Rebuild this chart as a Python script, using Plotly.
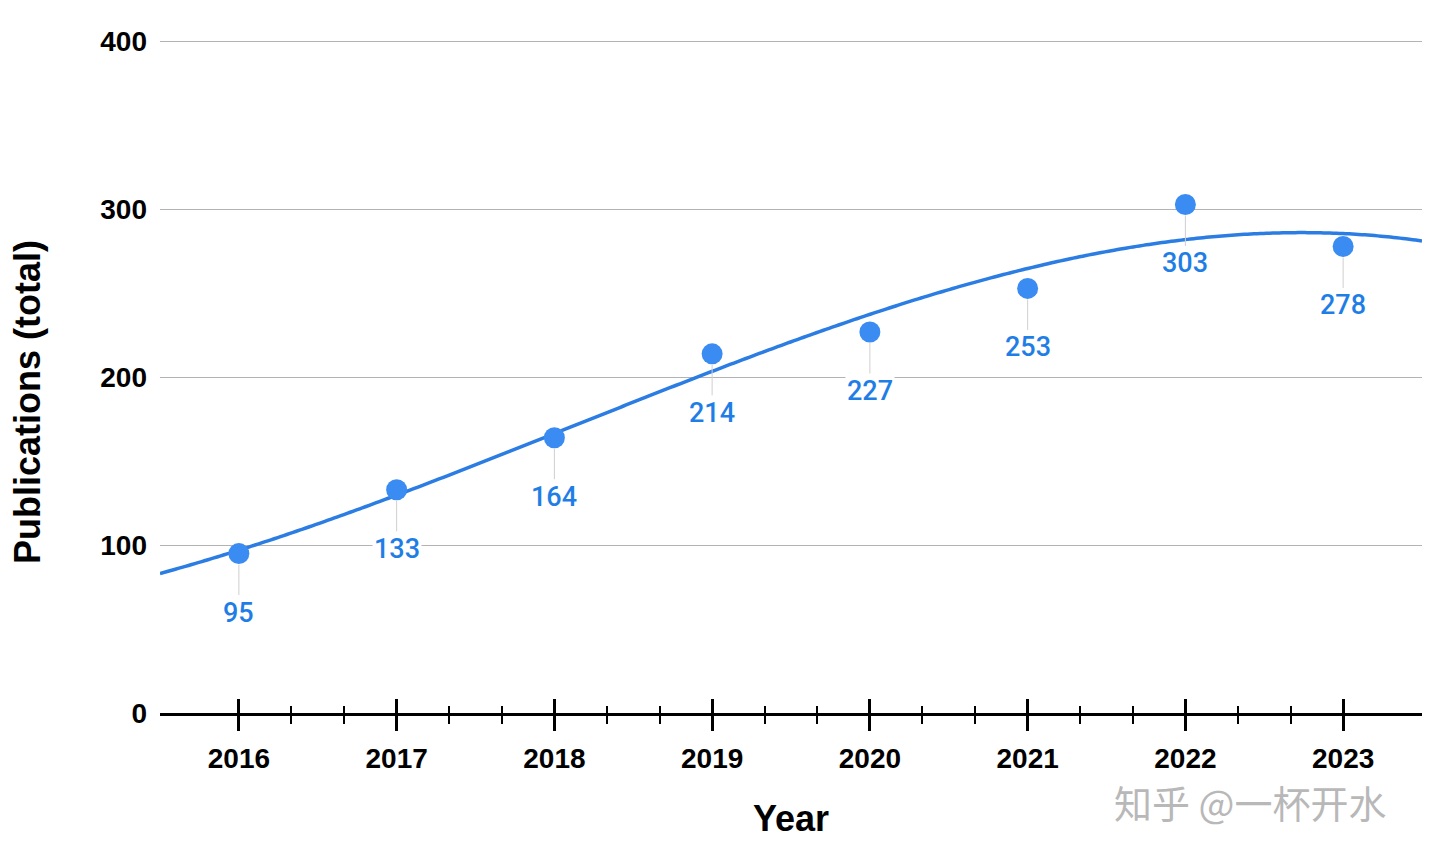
import numpy as np
import plotly.graph_objects as go

years = [2016, 2017, 2018, 2019, 2020, 2021, 2022, 2023]
publications = [95, 133, 164, 214, 227, 253, 303, 278]
y_ticks = [0, 100, 200, 300, 400]
x_title = "Year"
y_title = "Publications (total)"
watermark = "知乎 @一杯开水"

# cubic polynomial trendline fitted to the data
coef = np.polyfit(years, publications, 3)
tx = np.linspace(2015.5, 2023.5, 200)
ty = np.polyval(coef, tx)

# minor ticks: two between each pair of years
minor_vals = [y + f for y in years[:-1] for f in (1 / 3, 2 / 3)]

LINE = "#2b7de3"
MARK = "#3a8cf2"
LABEL = "#1f7ee6"

W, H = 1440, 851
ML, MR, MT, MB = 152, 26, 32, 146
pw = W - ML - MR
ph = H - MT - MB
OFF = 8  # page body offset

fig = go.Figure()
fig.add_trace(go.Scatter(x=tx, y=ty, mode="lines",
                         line=dict(color=LINE, width=3.5, shape="spline"),
                         hoverinfo="skip", showlegend=False))
fig.add_trace(go.Scatter(x=years, y=publications, mode="markers",
                         marker=dict(color=MARK, size=21, line=dict(width=0)),
                         showlegend=False))
# invisible trace for the overlaying axis (inner half of the ticks)
fig.add_trace(go.Scatter(x=years, y=publications, mode="markers",
                         marker=dict(opacity=0), xaxis="x2", hoverinfo="skip",
                         showlegend=False))

for x, y in zip(years, publications):
    fig.add_annotation(x=x, y=y, xref="x", yref="y", text=str(y),
                       showarrow=True, ax=0, ay=59, arrowhead=0,
                       arrowwidth=1, arrowcolor="#cfcfcf", standoff=11,
                       font=dict(family="Roboto", size=27, color=LABEL, weight=500),
                       bgcolor="white", borderpad=1)

fig.update_layout(
    width=W, height=H,
    margin=dict(l=ML, r=MR, t=MT, b=MB),
    paper_bgcolor="white", plot_bgcolor="white",
    font=dict(family="Liberation Sans", color="black"),
    xaxis=dict(range=[2015.5, 2023.5], tickmode="array", tickvals=years,
               ticktext=[str(v) for v in years],
               ticks="outside", ticklen=15, tickwidth=2.5, tickcolor="black",
               minor=dict(tickmode="array", tickvals=minor_vals, ticks="outside",
                          ticklen=8, tickwidth=2, tickcolor="black", showgrid=False),
               showline=True, linecolor="black", linewidth=3,
               showgrid=False, zeroline=False,
               tickfont=dict(size=28, family="Liberation Sans", weight="bold"),
               ticklabelstandoff=3,
               title=dict(text=x_title, font=dict(size=36, family="Liberation Sans", weight="bold"),
                          standoff=34)),
    xaxis2=dict(range=[2015.5, 2023.5], overlaying="x", anchor="y", side="bottom",
                tickmode="array", tickvals=years, showticklabels=False,
                ticks="inside", ticklen=14, tickwidth=2.5, tickcolor="black",
                minor=dict(tickmode="array", tickvals=minor_vals, ticks="inside",
                           ticklen=7, tickwidth=2, tickcolor="black", showgrid=False),
                showline=False, showgrid=False, zeroline=False),
    yaxis=dict(range=[0, 401], tickmode="array", tickvals=y_ticks,
               showgrid=True, gridcolor="#b3b3b3", gridwidth=1.2,
               zeroline=False, showline=False, ticks="",
               tickfont=dict(size=28, family="Liberation Sans", weight="bold"),
               ticklabelstandoff=12),
)

# y-axis title centred at page x ~26, y ~ 402
fig.add_annotation(x=(27 - OFF - ML) / pw, y=(H - MB - (402 - OFF)) / ph,
                   xref="paper", yref="paper", text=y_title, textangle=-90,
                   showarrow=False, xanchor="center", yanchor="middle",
                   font=dict(size=36, family="Liberation Sans", weight="bold", color="black"))

# watermark (target centre ~ (1250, 801) on the page)
fig.add_annotation(x=(1250 - OFF - ML) / pw, y=(H - MB - (801 - OFF)) / ph,
                   xref="paper", yref="paper", text=watermark, showarrow=False,
                   xanchor="center", yanchor="middle",
                   font=dict(family="Noto Sans CJK SC", size=38, color="#b8b8b8"))

fig.write_html("out.html")
